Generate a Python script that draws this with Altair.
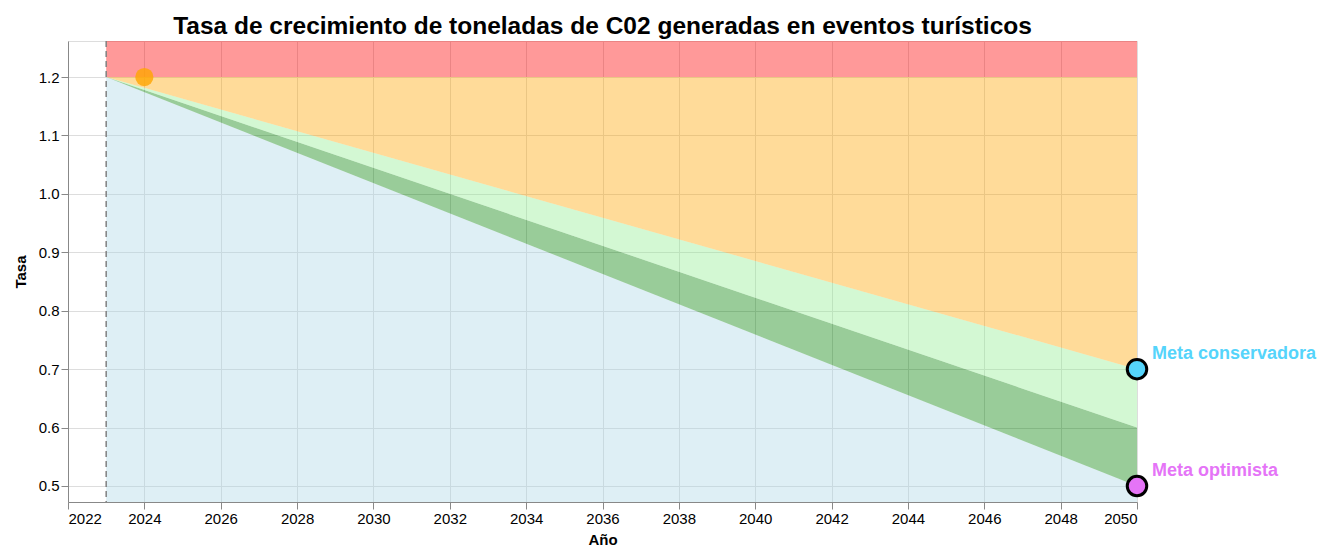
import altair as alt
import pandas as pd

years = [2023, 2050]
conservadora = [1.2, 0.7]
intermedia = [1.2, 0.6]
optimista = [1.2, 0.5]
techo = [1.2, 1.2]
y_min, y_max = 0.4726, 1.2617

df = pd.DataFrame({
    "year": years,
    "cons": conservadora,
    "mid": intermedia,
    "opt": optimista,
    "techo": techo,
    "top": [y_max, y_max],
    "bottom": [y_min, y_min],
})

x = alt.X("year:Q", title="Año", scale=alt.Scale(domain=[2022, 2050], nice=False),
          axis=alt.Axis(format="d", values=list(range(2022, 2051, 2)), titlePadding=6))
yscale = alt.Scale(domain=[y_min, y_max], nice=False, zero=False)
y_axis = alt.Axis(values=[0.5, 0.6, 0.7, 0.8, 0.9, 1.0, 1.1, 1.2], format=".1f", titlePadding=10)

base = alt.Chart(df)

def band(lo, hi, color):
    return base.mark_area(color=color, opacity=0.4).encode(
        x=x,
        y=alt.Y(f"{lo}:Q", scale=yscale, title="Tasa", axis=y_axis),
        y2=f"{hi}:Q",
    )

red = band("techo", "top", "red")
orange = band("cons", "techo", "orange")
lgreen = band("mid", "cons", "lightgreen")
dgreen = band("opt", "mid", "green")
lblue = band("bottom", "opt", "lightblue")

rule_df = pd.DataFrame({"year": [2023]})
rule = alt.Chart(rule_df).mark_rule(color="gray", strokeDash=[6, 4], strokeWidth=1.5).encode(x="year:Q")

start_df = pd.DataFrame({"year": [2024], "value": [1.2]})
start_pt = alt.Chart(start_df).mark_circle(color="orange", opacity=0.8, size=330).encode(
    x="year:Q", y=alt.Y("value:Q", scale=yscale))

goals = pd.DataFrame({
    "year": [2050, 2050],
    "value": [0.7, 0.5],
    "label": ["Meta conservadora", "Meta optimista"],
    "color": ["#55d4fb", "#e574f7"],
})
goal_pts = alt.Chart(goals).mark_circle(size=380, opacity=1, stroke="black", strokeWidth=3).encode(
    x="year:Q", y=alt.Y("value:Q", scale=yscale),
    color=alt.Color("color:N", scale=None))
goal_txt = alt.Chart(goals).mark_text(align="left", dx=15, dy=-15, fontSize=18, fontWeight="bold",
                                      font="Liberation Sans").encode(
    x="year:Q", y=alt.Y("value:Q", scale=yscale), text="label:N",
    color=alt.Color("color:N", scale=None))

chart = alt.layer(lblue, dgreen, lgreen, orange, red, rule, start_pt, goal_pts, goal_txt).properties(
    width=1069, height=461,
    title=alt.TitleParams("Tasa de crecimiento de toneladas de C02 generadas en eventos turísticos",
                          fontSize=24.5, font="Liberation Sans", fontWeight="bold", anchor="middle",
                          offset=1),
).configure_axis(
    labelFontSize=15, titleFontSize=15, labelFont="Liberation Sans", titleFont="Liberation Sans",
    titleFontWeight="bold", domainColor="#888", tickColor="#888", gridColor="#ddd", tickSize=7,
).configure_view(stroke="#ddd")

chart.save("out.html", embed_options={"renderer": "svg", "actions": False})
